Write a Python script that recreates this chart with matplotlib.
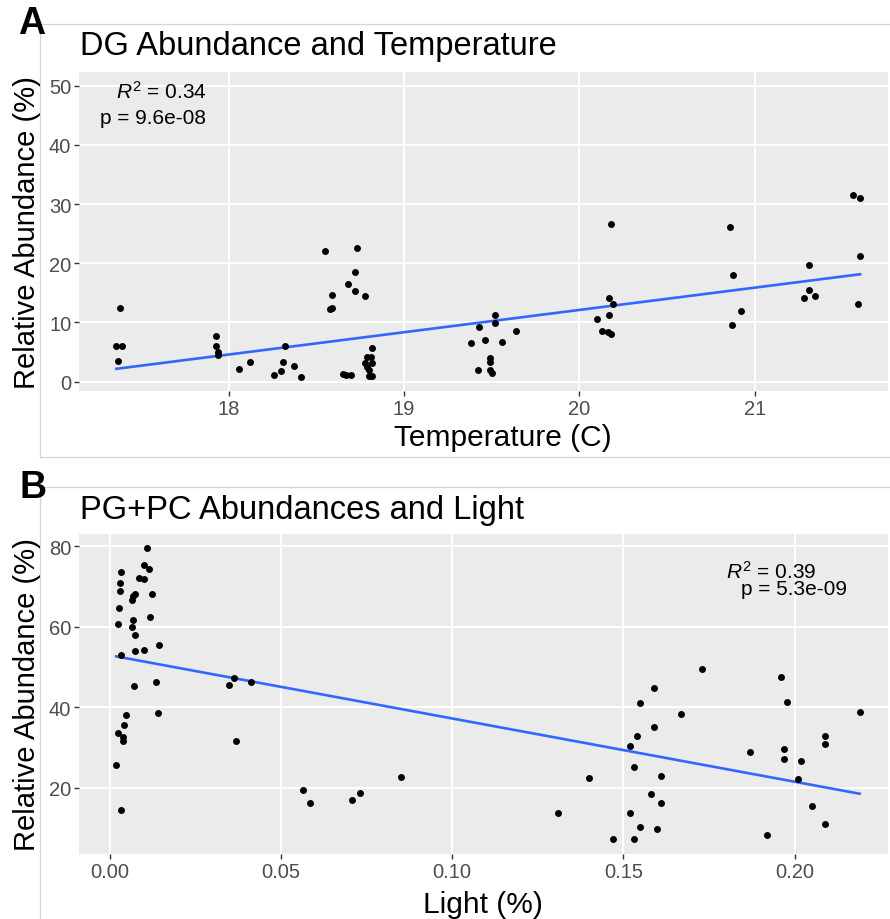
import numpy as np
import matplotlib
matplotlib.use("Agg")
import matplotlib.pyplot as plt
from matplotlib.lines import Line2D

plt.rcParams['font.family'] = ['Liberation Sans', 'DejaVu Sans']
plt.rcParams['mathtext.fontset'] = 'custom'
plt.rcParams['mathtext.rm'] = 'Liberation Sans'
plt.rcParams['mathtext.it'] = 'Liberation Sans:italic'

# ---- Panel A data: temperature vs DG relative abundance ----
temp = [17.38, 17.36, 17.39, 17.37,
        17.93, 17.93, 17.94, 17.94,
        18.06, 18.12, 18.26, 18.30, 18.31, 18.32, 18.37, 18.41,
        18.55, 18.73, 18.72, 18.68, 18.72, 18.59, 18.78, 18.58, 18.59,
        18.65, 18.67, 18.70,
        18.82, 18.79, 18.81, 18.78, 18.82, 18.79, 18.80, 18.80, 18.82,
        19.38, 19.43, 19.46, 19.42, 19.52, 19.52, 19.49, 19.49, 19.49, 19.50, 19.56, 19.64,
        20.18, 20.17, 20.19, 20.17, 20.10, 20.13, 20.16, 20.18,
        20.86, 20.875, 20.92, 20.87,
        21.31, 21.31, 21.28, 21.34,
        21.56, 21.60, 21.60, 21.59]
dg_abund = [12.4, 6.0, 6.0, 3.55,
            7.8, 6.0, 5.0, 4.5,
            2.2, 3.4, 1.1, 1.8, 3.3, 6.0, 2.6, 0.85,
            22.1, 22.6, 18.5, 16.5, 15.4, 14.6, 14.4, 12.3, 12.5,
            1.3, 1.2, 1.2,
            5.75, 4.2, 4.2, 3.1, 3.1, 2.5, 2.0, 1.0, 1.0,
            6.5, 9.2, 7.1, 2.0, 11.3, 9.9, 4.0, 3.4, 1.9, 1.4, 6.7, 8.6,
            26.6, 14.2, 13.1, 11.2, 10.6, 8.6, 8.4, 8.1,
            26.2, 18.0, 11.9, 9.6,
            19.7, 15.5, 14.2, 14.4,
            31.6, 31.0, 21.3, 13.1]

# ---- Panel B data: light vs PG+PC relative abundance ----
light = [0.0110, 0.0100, 0.0116, 0.0032, 0.0086, 0.0101, 0.0029, 0.0030, 0.0073, 0.0068,
         0.0064, 0.0124, 0.0028, 0.0119, 0.0069, 0.0066, 0.0024, 0.0074, 0.0145, 0.0075,
         0.0100, 0.0032, 0.0071, 0.0136, 0.0141, 0.0048, 0.0043, 0.0024, 0.0038, 0.0040,
         0.0019, 0.0034,
         0.0348, 0.0363, 0.0413, 0.0368,
         0.0565, 0.0586, 0.0707, 0.0730, 0.0852,
         0.1310, 0.1399, 0.1471, 0.1530, 0.1519, 0.1550, 0.1598, 0.1580, 0.1610, 0.1610,
         0.1530, 0.1519, 0.1539, 0.1590, 0.1550, 0.1590, 0.1669, 0.1730, 0.1869, 0.1920,
         0.1960, 0.1979, 0.1969, 0.1969, 0.2020, 0.2009, 0.2050, 0.2089, 0.2089, 0.2089,
         0.2190]
pgpc_abund = [79.55, 75.5, 74.5, 73.7, 72.2, 71.9, 70.9, 68.9, 68.2, 67.6,
              66.7, 68.2, 64.6, 62.5, 61.7, 60.0, 60.8, 57.9, 55.5, 54.0,
              54.4, 53.0, 45.3, 46.4, 38.6, 38.1, 35.7, 33.7, 32.7, 31.7,
              25.8, 14.6,
              45.5, 47.4, 46.4, 31.6,
              19.4, 16.35, 17.1, 18.8, 22.8,
              13.7, 22.5, 7.25, 7.25, 13.9, 10.3, 9.9, 18.4, 16.2, 23.1,
              25.2, 30.4, 33.0, 35.2, 41.1, 44.9, 38.3, 49.6, 29.0, 8.3,
              47.5, 41.3, 29.8, 27.3, 26.7, 22.3, 15.5, 32.9, 31.0, 11.1,
              39.0]

a_xticks = [18, 19, 20, 21]
a_yticks = [0, 10, 20, 30, 40, 50]
b_xticks = [0.00, 0.05, 0.10, 0.15, 0.20]
b_xticklabels = ["0.00", "0.05", "0.10", "0.15", "0.20"]
b_yticks = [20, 40, 60, 80]

W, H = 890, 920
fig = plt.figure(figsize=(W / 100, H / 100), dpi=100)


def fx(px):
    return px / W


def fy(py):
    return 1 - py / H


def add_axes_px(left, top, right, bottom):
    return fig.add_axes([fx(left), fy(bottom), (right - left) / W, (bottom - top) / H])


GRID = 'white'
BG = '#ebebeb'
TICKC = '#4d4d4d'
BLUE = '#3366FF'


def style(ax):
    ax.set_facecolor(BG)
    for s in ax.spines.values():
        s.set_visible(False)
    ax.grid(True, color=GRID, linewidth=1.4)
    ax.set_axisbelow(True)
    ax.tick_params(axis='both', colors='#333333', length=3.5, width=1.0,
                   labelsize=14.5, labelcolor=TICKC, pad=2)


def fit_line(ax, x, y):
    x = np.asarray(x)
    y = np.asarray(y)
    m, b = np.polyfit(x, y, 1)
    xs = np.array([x.min(), x.max()])
    ax.plot(xs, m * xs + b, color=BLUE, linewidth=1.9, zorder=3)


# ---- frames ----
fc = '#d4d4d4'
for (x0, y0, x1, y1) in [(40, 25, 890, 25), (40, 25, 40, 458), (40, 458, 890, 458),
                         (40, 488, 890, 488), (40, 488, 40, 920)]:
    fig.add_artist(Line2D([fx(x0), fx(x1)], [fy(y0), fy(y1)], color=fc, linewidth=0.9))

# ---- Panel A ----
axA = add_axes_px(79, 73, 888, 392)
style(axA)
axA.scatter(temp, dg_abund, s=25, color='black', zorder=4, linewidths=0)
fit_line(axA, temp, dg_abund)
axA.set_xlim(17.147, 21.759)
axA.set_ylim(-1.57, 52.3)
axA.set_xticks(a_xticks)
axA.set_xticklabels([str(t) for t in a_xticks])
axA.set_yticks(a_yticks)
axA.set_yticklabels([str(t) for t in a_yticks])

fig.text(fx(206.5), fy(92), r'$R^2$ = 0.34', ha='right', va='center', fontsize=15)
fig.text(fx(206.5), fy(118), 'p = 9.6e-08', ha='right', va='center', fontsize=15)

fig.text(fx(80), fy(47), 'DG Abundance and Temperature', ha='left', va='center', fontsize=23.5)
fig.text(fx(503), fy(438), 'Temperature (C)', ha='center', va='center', fontsize=21.5)
fig.text(fx(27), fy(233), 'Relative Abundance (%)', ha='center', va='center',
         fontsize=21, rotation=90)
fig.text(fx(32), fy(24), 'A', ha='center', va='center', fontsize=27, fontweight='bold')

# ---- Panel B ----
axB = add_axes_px(79, 535, 888, 855)
style(axB)
axB.scatter(light, pgpc_abund, s=25, color='black', zorder=4, linewidths=0)
fit_line(axB, light, pgpc_abund)
axB.set_xlim(-0.00897, 0.2273)
axB.set_ylim(3.6, 83.1)
axB.set_xticks(b_xticks)
axB.set_xticklabels(b_xticklabels)
axB.set_yticks(b_yticks)
axB.set_yticklabels([str(t) for t in b_yticks])

fig.text(fx(771.3), fy(572), r'$R^2$ = 0.39', ha='center', va='center', fontsize=15)
fig.text(fx(793.8), fy(590), 'p = 5.3e-09', ha='center', va='center', fontsize=15)

fig.text(fx(80), fy(510), 'PG+PC Abundances and Light', ha='left', va='center', fontsize=23.5)
fig.text(fx(483), fy(905), 'Light (%)', ha='center', va='center', fontsize=21.5)
fig.text(fx(27), fy(695), 'Relative Abundance (%)', ha='center', va='center',
         fontsize=21, rotation=90)
fig.text(fx(33), fy(488), 'B', ha='center', va='center', fontsize=27, fontweight='bold')

fig.savefig('out.png', dpi=100)
